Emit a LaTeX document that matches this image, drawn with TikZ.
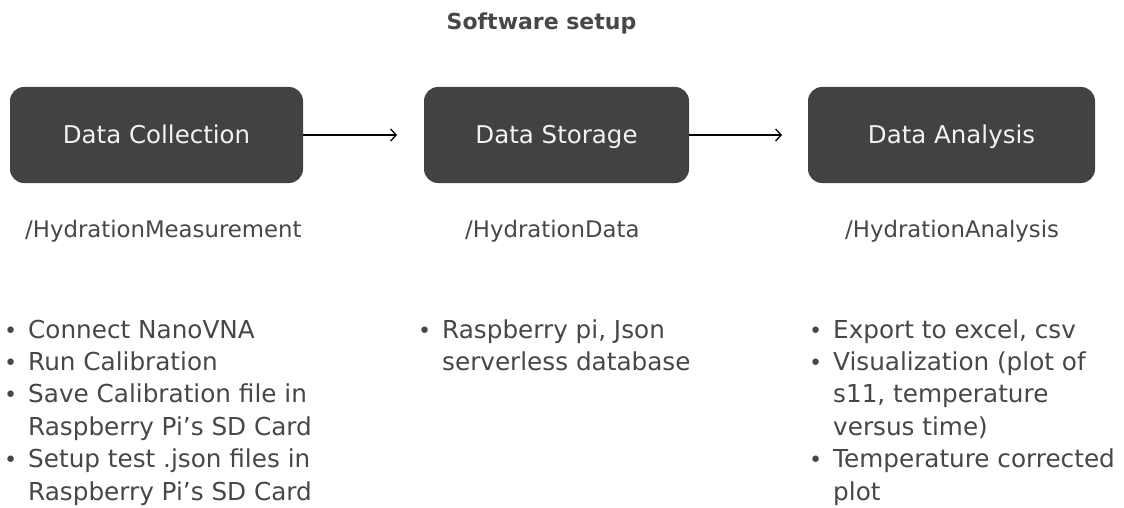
\documentclass[tikz,border=0pt]{standalone}
\usepackage{fontspec}
\setmainfont{DejaVu Sans}
\usetikzlibrary{arrows.meta}
\definecolor{boxgray}{HTML}{424242}
\definecolor{txtgray}{HTML}{474747}
\definecolor{boxtext}{HTML}{F2F2F2}
\begin{document}
\begin{tikzpicture}[x=1pt,y=-1pt,
  stage/.style={fill=boxgray, rounded corners=14pt, minimum height=96pt,
    text=boxtext, font=\fontsize{24.5}{28}\selectfont, text height=16pt, text depth=0pt, inner sep=0pt},
  folder/.style={anchor=base west, text=txtgray, font=\fontsize{22.8}{26}\selectfont, inner sep=0pt},
  bullets/.style={anchor=base west, text=txtgray, font=\fontsize{24.7}{32.4}\selectfont, inner sep=0pt, align=left},
  flow/.style={draw=black, line width=1.3pt, -{Straight Barb[length=5.5pt,width=12pt,line width=1.3pt]}}]
\useasboundingbox[fill=white] (0,0) rectangle (1124,508);

\node[anchor=base, text=txtgray, font=\fontsize{22}{26}\selectfont\bfseries] (title) at (541.5,30) {Software setup};

\node[stage, minimum width=293pt] (b1) at (156.5,135) {Data Collection};
\node[stage, minimum width=265pt] (b2) at (556.5,135) {Data Storage};
\node[stage, minimum width=287pt] (b3) at (951.5,135) {Data Analysis};

\coordinate (e1) at (397,135);
\coordinate (e2) at (782,135);
\draw[flow] (b1.east) -- (e1);
\draw[flow] (b2.east) -- (e2);

\node[folder] (f1) at (25,237) {/HydrationMeasurement};
\node[folder] (f2) at (465,237) {/HydrationData};
\node[folder] (f3) at (845,237) {/HydrationAnalysis};

\newcommand{\bul}{\llap{\scalebox{0.9}{\textbullet}\hspace{11pt}}}
\node[bullets] (l1) at (28,338) {\begin{tabular}[t]{@{}l@{}}
\bul Connect NanoVNA\\
\bul Run Calibration\\
\bul Save Calibration file in\\
Raspberry Pi’s SD Card\\
\bul Setup test .json files in\\
Raspberry Pi’s SD Card
\end{tabular}};
\node[bullets] (l2) at (442,338) {\begin{tabular}[t]{@{}l@{}}
\bul Raspberry pi, Json\\
serverless database
\end{tabular}};
\node[bullets] (l3) at (833,338) {\begin{tabular}[t]{@{}l@{}}
\bul Export to excel, csv\\
\bul Visualization (plot of\\
s11, temperature\\
versus time)\\
\bul Temperature corrected\\
plot
\end{tabular}};
\end{tikzpicture}
\end{document}
